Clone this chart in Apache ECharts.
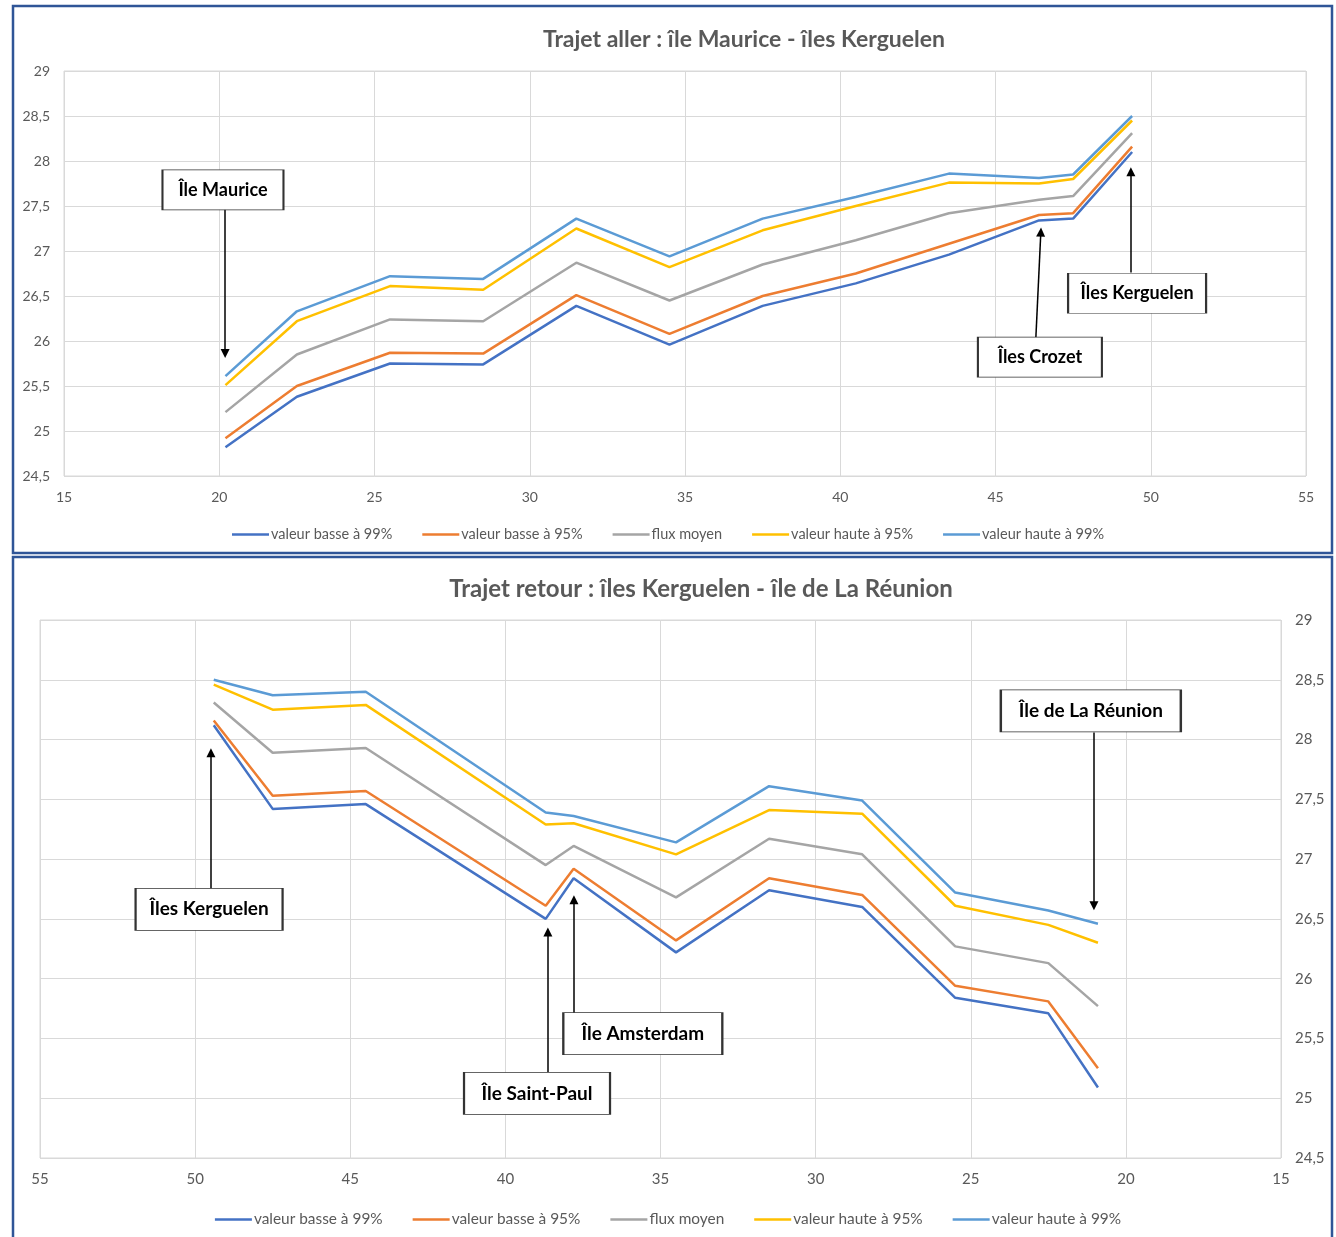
<!DOCTYPE html>
<html>
<head>
<meta charset="utf-8">
<script src="https://cdn.jsdelivr.net/npm/echarts@6/dist/echarts.min.js"></script>
<style>
html,body{margin:0;padding:0;background:#fff;}
#chart{width:1336px;height:1237px;}
</style>
</head>
<body>
<div id="chart"></div>
<script>
// ---- Data ----
const seriesNames = ['valeur basse à 99%', 'valeur basse à 95%', 'flux moyen', 'valeur haute à 95%', 'valeur haute à 99%'];
const seriesColors = ['#4472C4', '#ED7D31', '#A5A5A5', '#FFC000', '#5B9BD5'];

// Trajet aller (latitude °S)
const latAller = [20.2, 22.5, 25.5, 28.5, 31.5, 34.5, 37.5, 40.5, 43.5, 46.4, 47.5, 49.4];
const allerBasse99 = [24.82, 25.38, 25.75, 25.74, 26.39, 25.96, 26.39, 26.64, 26.96, 27.34, 27.36, 28.10];
const allerBasse95 = [24.92, 25.50, 25.87, 25.86, 26.51, 26.08, 26.50, 26.75, 27.08, 27.40, 27.42, 28.16];
const allerMoyen   = [25.21, 25.85, 26.24, 26.22, 26.87, 26.45, 26.85, 27.12, 27.42, 27.57, 27.61, 28.31];
const allerHaute95 = [25.51, 26.22, 26.61, 26.57, 27.25, 26.82, 27.23, 27.50, 27.76, 27.75, 27.80, 28.45];
const allerHaute99 = [25.61, 26.33, 26.72, 26.69, 27.36, 26.94, 27.36, 27.60, 27.86, 27.81, 27.85, 28.50];

// Trajet retour (latitude °S)
const latRetour = [49.4, 47.5, 44.5, 38.7, 37.8, 34.5, 31.5, 28.5, 25.5, 22.5, 20.9];
const retourBasse99 = [28.12, 27.42, 27.46, 26.50, 26.84, 26.22, 26.74, 26.60, 25.84, 25.71, 25.09];
const retourBasse95 = [28.16, 27.53, 27.57, 26.61, 26.92, 26.32, 26.84, 26.70, 25.94, 25.81, 25.25];
const retourMoyen   = [28.31, 27.89, 27.93, 26.95, 27.11, 26.68, 27.17, 27.04, 26.27, 26.13, 25.77];
const retourHaute95 = [28.46, 28.25, 28.29, 27.29, 27.30, 27.04, 27.41, 27.38, 26.61, 26.45, 26.30];
const retourHaute99 = [28.50, 28.37, 28.40, 27.39, 27.36, 27.14, 27.61, 27.49, 26.72, 26.57, 26.46];

// Axes
const xMin = 15, xMax = 55, xInterval = 5;
const yMin = 24.5, yMax = 29, yInterval = 0.5;

// Annotations: [label, box center [lat, value], arrow from [lat, value], arrow to [lat, value], box width]
const annotAller = [
  ['Île Maurice',    [20.12, 27.68], [20.19, 27.46], [20.19, 25.86], 121],
  ['Îles Crozet',    [46.43, 25.82], [46.30, 26.04], [46.46, 27.21], 124],
  ['Îles Kerguelen', [49.56, 26.53], [49.36, 26.76], [49.36, 27.88], 138]
];
const annotRetour = [
  ['Île de La Réunion', [21.13, 28.24], [21.03, 28.06], [21.03, 26.61], 180],
  ['Îles Kerguelen',    [49.55, 26.58], [49.49, 26.75], [49.49, 27.89], 147],
  ['Île Amsterdam',     [35.57, 25.54], [37.79, 25.71], [37.79, 26.66], 159],
  ['Île Saint-Paul',    [38.98, 25.04], [38.63, 25.22], [38.63, 26.39], 146]
];

const allerData = [allerBasse99, allerBasse95, allerMoyen, allerHaute95, allerHaute99];
const retourData = [retourBasse99, retourBasse95, retourMoyen, retourHaute95, retourHaute99];

// ---- Build options ----
const FONT = 'Lato, "Open Sans", sans-serif';
const labelColor = '#595959';
const gridColor = '#D9D9D9';
const fmt = v => String(v).replace('.', ',');

function xAxis(gridIndex, inverse, fs) {
  return {
    type: 'value', gridIndex, min: xMin, max: xMax, interval: xInterval, inverse,
    axisLine: { show: false }, axisTick: { show: false },
    axisLabel: { color: labelColor, fontFamily: FONT, fontSize: fs, margin: 14, formatter: fmt },
    splitLine: { show: true, lineStyle: { color: gridColor, width: 1 } }
  };
}
function yAxis(gridIndex, position, fs) {
  return {
    type: 'value', gridIndex, min: yMin, max: yMax, interval: yInterval, position,
    axisLine: { show: false }, axisTick: { show: false },
    axisLabel: { color: labelColor, fontFamily: FONT, fontSize: fs, margin: 14, formatter: fmt },
    splitLine: { show: true, lineStyle: { color: gridColor, width: 1 } }
  };
}

function annotSeries(idx, annots, fs, h) {
  return {
    name: 'annot' + idx, type: 'line', xAxisIndex: idx, yAxisIndex: idx,
    data: [], silent: true, symbol: 'none',
    markLine: {
      silent: true, animation: false,
      symbol: ['none', 'triangle'], symbolSize: 9,
      lineStyle: { color: '#000', width: 1.5, type: 'solid' },
      label: { show: false },
      data: annots.map(a => [{ coord: a[2] }, { coord: a[3] }])
    },
    markPoint: {
      silent: true, animation: false,
      symbol: 'rect',
      itemStyle: { color: '#fff', borderColor: '#333', borderWidth: 1.2 },
      label: { show: true, position: 'inside', color: '#000', fontFamily: FONT, fontWeight: 'bold', fontSize: fs },
      data: annots.map(a => ({
        coord: a[1], value: a[0],
        symbolSize: [a[4], h],
        label: { formatter: a[0] }
      }))
    }
  };
}

const series = [];
[allerData, retourData].forEach((set, gi) => {
  const xs = gi === 0 ? latAller : latRetour;
  set.forEach((vals, si) => {
    series.push({
      name: seriesNames[si], type: 'line', xAxisIndex: gi, yAxisIndex: gi,
      data: xs.map((x, i) => [x, vals[i]]),
      symbol: 'none', smooth: false,
      lineStyle: { color: seriesColors[si], width: 2.5 },
      itemStyle: { color: seriesColors[si] },
      z: 2 + si
    });
  });
});
series.push(annotSeries(0, annotAller, 18, 40));
series.push(annotSeries(1, annotRetour, 19, 42));

function legend(top, fs) {
  return {
    top, left: 'center',
    data: seriesNames, icon: 'rect', itemWidth: 37, itemHeight: 2.5, itemGap: 30,
    textStyle: { color: labelColor, fontFamily: FONT, fontSize: fs, padding: [0, 0, 0, -3] },
    selectedMode: false
  };
}

const option = {
  animation: false,
  backgroundColor: '#fff',
  title: [
    { text: 'Trajet aller : île Maurice - îles Kerguelen', left: 739, top: 23, textAlign: 'center',
      textStyle: { color: labelColor, fontFamily: FONT, fontWeight: 'bold', fontSize: 23 } },
    { text: 'Trajet retour : îles Kerguelen - île de La Réunion', left: 696, top: 572, textAlign: 'center',
      textStyle: { color: labelColor, fontFamily: FONT, fontWeight: 'bold', fontSize: 24 } }
  ],
  legend: [legend(522, 14.5), legend(1207, 15.4)],
  grid: [
    { left: 64, top: 71, width: 1242, height: 405, show: true, borderColor: gridColor, borderWidth: 1 },
    { left: 40, top: 620, width: 1241, height: 538, show: true, borderColor: gridColor, borderWidth: 1 }
  ],
  xAxis: [xAxis(0, false, 14), xAxis(1, true, 15)],
  yAxis: [yAxis(0, 'left', 14), yAxis(1, 'right', 15)],
  graphic: [
    { type: 'rect', shape: { x: 13, y: 6, width: 1319, height: 547 }, style: { fill: 'none', stroke: '#2F5597', lineWidth: 2.5 }, silent: true },
    { type: 'rect', shape: { x: 13, y: 557, width: 1319, height: 700 }, style: { fill: 'none', stroke: '#2F5597', lineWidth: 2.5 }, silent: true }
  ],
  series
};

const chart = echarts.init(document.getElementById('chart'), null, { renderer: 'canvas' });
chart.setOption(option);
</script>
</body>
</html>
